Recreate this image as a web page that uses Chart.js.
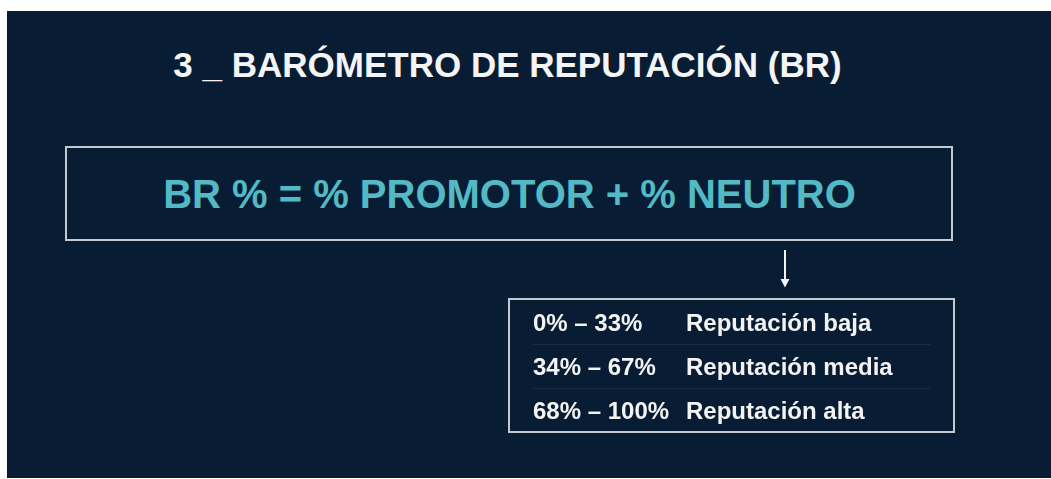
<!DOCTYPE html>
<html>
<head>
<meta charset="utf-8">
<script src="https://cdn.jsdelivr.net/npm/chart.js@4.4.1/dist/chart.umd.min.js"></script>
<style>
  html, body { margin: 0; padding: 0; background: #ffffff; }
  body { position: relative; width: 1051px; height: 479px; overflow: hidden;
         font-family: "Liberation Sans", Arial, sans-serif; font-weight: bold; }
  #slide { position: absolute; left: 7px; top: 11px; width: 1044px; height: 467px; background: #081d33; }
  .txt { position: absolute; white-space: nowrap; text-align: center; }
  #title { left: 107.5px; width: 800px; top: 47.4px; font-size: 35px; line-height: 35px; color: #f4f4f4; }
  #formulaBox { position: absolute; left: 65px; top: 146px; width: 888px; height: 95px; box-sizing: border-box;
                border: 2px solid #c3c9d1; }
  #formula { left: 109.5px; width: 800px; top: 174.1px; font-size: 40px; line-height: 40px; color: #52b9c5; }
  #tableBox { position: absolute; left: 508px; top: 298px; width: 447px; height: 135px; box-sizing: border-box;
              border: 2px solid #c3c9d1; }
  #arrow { position: absolute; left: 775px; top: 248px; }
  #chart { position: absolute; left: 0; top: 0; }
</style>
</head>
<body>
<div id="slide"></div>
<div id="title" class="txt">3 _ BARÓMETRO DE REPUTACIÓN (BR)</div>
<div id="formulaBox"></div>
<div id="formula" class="txt">BR % = % PROMOTOR + % NEUTRO</div>
<svg id="arrow" width="20" height="42" viewBox="0 0 20 42">
  <line x1="10" y1="2" x2="10" y2="33" stroke="#f4f4f4" stroke-width="2"/>
  <polygon points="5.5,31 14.5,31 10,39.5" fill="#f4f4f4"/>
</svg>
<div id="tableBox"></div>
<canvas id="chart" width="1051" height="479"></canvas>
<script>
// ---- data ----
const rangeMin = [0, 34, 68];
const rangeMax = [33, 67, 100];
const levelLabels = ['Reputación baja', 'Reputación media', 'Reputación alta'];
const rangeLabels = rangeMin.map((m, i) => m + '% – ' + rangeMax[i] + '%');

const TEXT_FONT = 'bold 24px "Liberation Sans", Arial, sans-serif';
const TEXT_COLOR = '#f3f3f3';
const SEP_COLOR = '#1a2f47';

const tableText = {
  id: 'tableText',
  afterDraw(chart) {
    const ctx = chart.ctx;
    const y = chart.scales.y;
    const left = chart.chartArea.left;
    ctx.save();
    ctx.font = TEXT_FONT;
    ctx.fillStyle = TEXT_COLOR;
    ctx.textAlign = 'left';
    ctx.textBaseline = 'alphabetic';
    rangeLabels.forEach((lab, i) => {
      const py = y.getPixelForValue(i) + 8.5;
      ctx.fillText(lab, left, py);
      ctx.fillText(levelLabels[i], left + 153, py);
    });
    ctx.restore();
  }
};

new Chart(document.getElementById('chart'), {
  type: 'bar',
  data: { labels: rangeLabels, datasets: [] },
  options: {
    indexAxis: 'y',
    responsive: false,
    animation: false,
    events: [],
    layout: { padding: { left: 533, right: 121, top: 300, bottom: 47 } },
    plugins: { legend: { display: false }, tooltip: { enabled: false }, title: { display: false } },
    scales: {
      x: { type: 'linear', min: 0, max: 100, display: false },
      y: {
        type: 'category',
        offset: true,
        ticks: { display: false },
        border: { display: false },
        grid: {
          offset: true,
          drawTicks: false,
          lineWidth: 1,
          color: (c) => (c.type === 'tick' && c.index > 0 && c.index < rangeLabels.length) ? SEP_COLOR : 'rgba(0,0,0,0)'
        }
      }
    }
  },
  plugins: [tableText]
});
</script>
</body>
</html>
